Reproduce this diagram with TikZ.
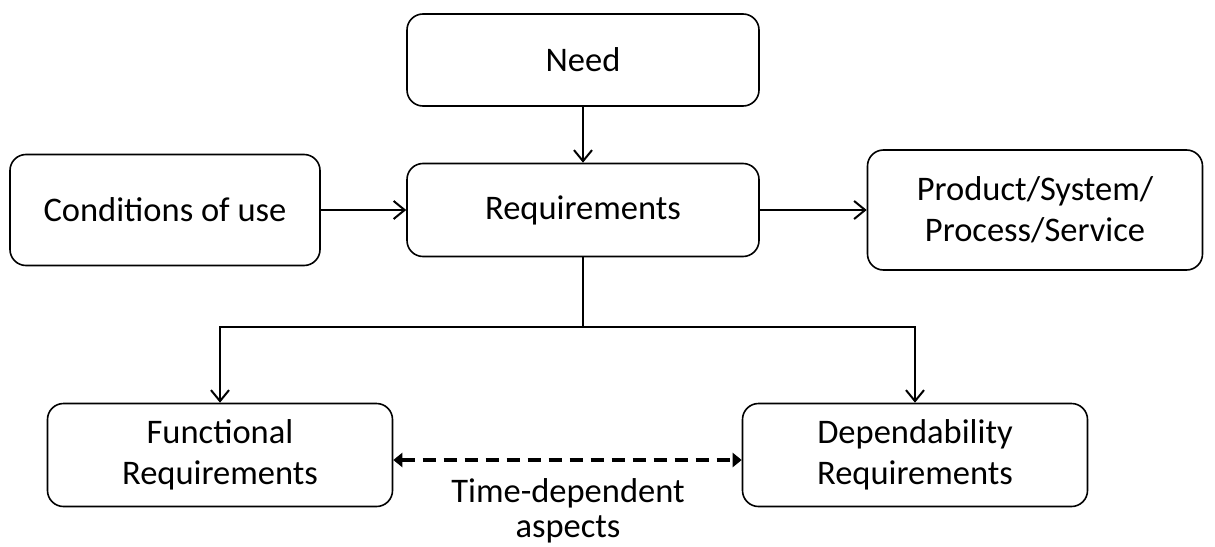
\documentclass[tikz,border=0pt]{standalone}
\usepackage{fontspec}
\setmainfont{Carlito}
\usetikzlibrary{arrows.meta}
\begin{document}
\begin{tikzpicture}[x=1pt,y=-1pt,
  box/.style={draw, line width=1.6pt, rounded corners=16pt, align=center,
    inner sep=0pt, font=\fontsize{34.5}{41}\selectfont},
  link/.style={line width=2pt, -{Straight Barb[length=11pt,width=18pt,line width=2pt]}},
  dlink/.style={line width=4pt, dash pattern=on 13pt off 8pt,
    {Triangle[length=9pt,width=14pt]}-{Triangle[length=9pt,width=14pt]}},
  lbl/.style={align=center, font=\fontsize{34.5}{35}\selectfont}]
\useasboundingbox (0,0) rectangle (1215,546);

\node[box, minimum width=352pt, minimum height=92pt] (need) at (583,60) {Need};
\node[box, minimum width=352pt, minimum height=93pt] (req) at (583,210) {Requirements};
\node[box, minimum width=310pt, minimum height=111pt] (cond) at (165,210) {Conditions of use};
\node[box, minimum width=335pt, minimum height=120pt] (prod) at (1035,210) {Product/System/\\Process/Service};
\node[box, minimum width=345pt, minimum height=103pt] (func) at (220,455) {Functional\\Requirements};
\node[box, minimum width=345pt, minimum height=103pt] (dep) at (915,455) {Dependability\\Requirements};

\coordinate (split) at (583,327);

\draw[link] (need.south) -- (req.north);
\draw[link] (cond.east) -- (req.west);
\draw[link] (req.east) -- (prod.west);
\draw[line width=2pt] (req.south) -- (split);
\draw[link] (split) -| (func.north);
\draw[link] (split) -| (dep.north);
\draw[dlink] (func.east |- 0,460) -- (dep.west |- 0,460);

\node[lbl] (aspects) at (568,511) {Time-dependent\\aspects};
\end{tikzpicture}
\end{document}
